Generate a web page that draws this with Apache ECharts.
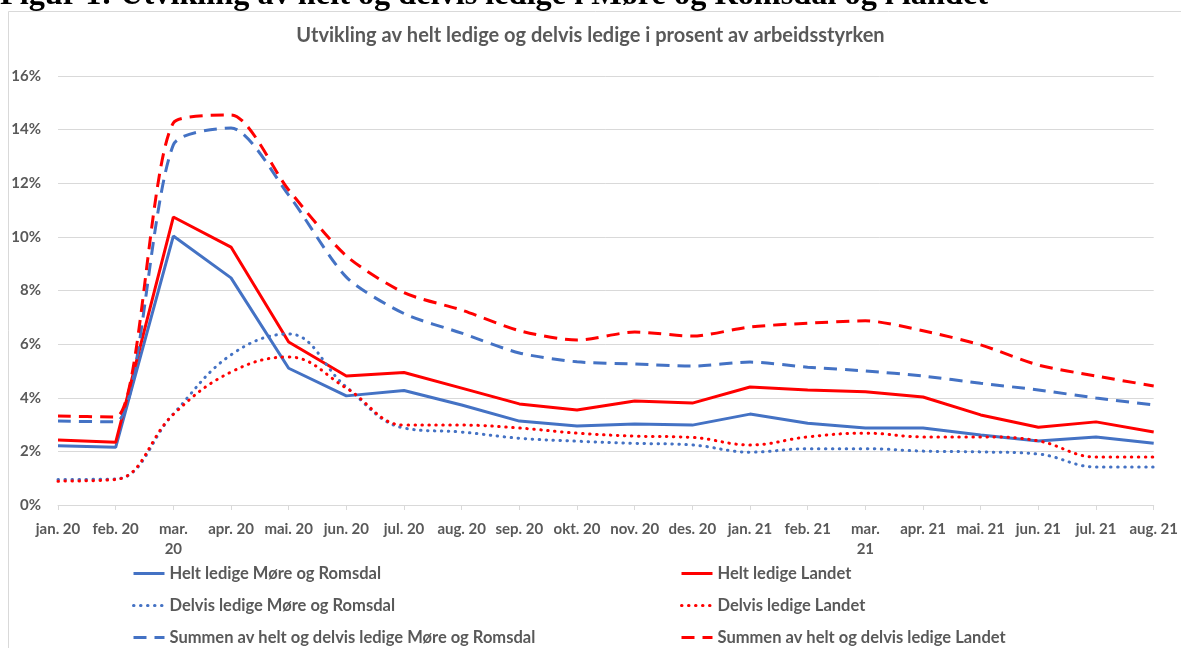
<!DOCTYPE html>
<html>
<head>
<meta charset="utf-8">
<script src="https://cdn.jsdelivr.net/npm/echarts@6/dist/echarts.min.js"></script>
<style>
html,body{margin:0;padding:0;background:#fff;}
#chart{width:1181px;height:648px;}
</style>
</head>
<body>
<div id="chart"></div>
<script>
const categories = ["jan. 20","feb. 20","mar.\n20","apr. 20","mai. 20","jun. 20","jul. 20","aug. 20","sep. 20","okt. 20","nov. 20","des. 20","jan. 21","feb. 21","mar.\n21","apr. 21","mai. 21","jun. 21","jul. 21","aug. 21"];
const yTicks = [0,2,4,6,8,10,12,14,16];

const heltMR      = [2.21,2.15,10.03,8.47,5.10,4.07,4.27,3.73,3.13,2.95,3.02,2.98,3.39,3.05,2.87,2.87,2.61,2.39,2.54,2.30];
const heltLandet  = [2.42,2.34,10.74,9.62,6.08,4.81,4.94,4.36,3.77,3.54,3.88,3.80,4.40,4.29,4.22,4.03,3.36,2.90,3.10,2.72];
const delvisMR    = [0.95,0.97,3.40,5.60,6.38,4.40,2.87,2.72,2.49,2.38,2.30,2.24,1.97,2.10,2.10,2.01,1.98,1.90,1.42,1.42];
const delvisLandet= [0.89,0.95,3.38,4.96,5.52,4.36,2.98,2.98,2.87,2.68,2.57,2.52,2.24,2.54,2.68,2.54,2.54,2.39,1.79,1.79];
const sumMR       = [3.13,3.10,13.43,14.06,11.56,8.50,7.14,6.41,5.67,5.34,5.26,5.18,5.33,5.14,5.00,4.81,4.54,4.29,3.99,3.73];
const sumLandet   = [3.32,3.28,14.25,14.55,11.75,9.29,7.92,7.27,6.50,6.15,6.45,6.30,6.64,6.78,6.87,6.50,5.97,5.22,4.81,4.44];

const names = {
  heltMR: "Helt ledige Møre og Romsdal",
  heltLandet: "Helt ledige Landet",
  delvisMR: "Delvis ledige Møre og Romsdal",
  delvisLandet: "Delvis ledige Landet",
  sumMR: "Summen av helt og delvis ledige Møre og Romsdal",
  sumLandet: "Summen av helt og delvis ledige Landet"
};

const BLUE = '#4472C4', RED = '#FF0000';
const FONT = 'Lato';
const TXT = '#595959';

function mk(name, data, color, smooth) {
  return {
    name: name, type: 'line', data: data, symbol: 'none', showSymbol: false,
    smooth: smooth, animation: false,
    lineStyle: { color: color, width: 3, type: 'solid', cap: 'butt' },
    itemStyle: { color: color }
  };
}
function dotted(s){ s.lineStyle.type = [0.5, 6.5]; s.lineStyle.cap = 'round'; return s; }
function dashed(s){ s.lineStyle.type = [13, 8]; return s; }

const series = [
  mk(names.heltMR, heltMR, BLUE, false),
  mk(names.heltLandet, heltLandet, RED, false),
  dotted(mk(names.delvisMR, delvisMR, BLUE, 0.4)),
  dotted(mk(names.delvisLandet, delvisLandet, RED, 0.4)),
  dashed(mk(names.sumMR, sumMR, BLUE, 0.25)),
  dashed(mk(names.sumLandet, sumLandet, RED, 0.25))
];

const legendText = { color: TXT, fontFamily: FONT, fontSize: 16.5, fontWeight: 'bold' };
const legendCommon = { orient: 'vertical', top: 560, height: 90, itemWidth: 31, itemHeight: 14, itemGap: 15,
  itemStyle: { opacity: 0 }, lineStyle: { width: 3 }, textStyle: legendText };

const chart = echarts.init(document.getElementById('chart'), null, { renderer: 'canvas' });
chart.setOption({
  animation: false,
  backgroundColor: '#fff',
  title: {
    text: 'Utvikling av helt ledige og delvis ledige i prosent av arbeidsstyrken',
    left: 'center', top: 21,
    textStyle: { color: TXT, fontFamily: FONT, fontSize: 20, fontWeight: 'bold' }
  },
  graphic: [
    { type: 'rect', shape: { x: 8.5, y: 11.5, width: 1200, height: 700 },
      style: { fill: 'none', stroke: '#d9d9d9', lineWidth: 1 }, z: -1 },
    { type: 'text', left: 0, top: -20,
      style: { text: 'Figur 1: Utvikling av helt og delvis ledige i Møre og Romsdal og i landet',
        fontFamily: 'Liberation Serif', fontSize: 32.3, fontWeight: 'bold', fill: '#000' } }
  ],
  grid: { left: 58, right: 19, top: 76, bottom: 143, containLabel: false },
  xAxis: {
    type: 'category', data: categories, boundaryGap: false,
    axisLine: { lineStyle: { color: '#d9d9d9', width: 1 } },
    axisTick: { show: true, length: 5, lineStyle: { color: '#d9d9d9' } },
    axisLabel: { color: TXT, fontFamily: FONT, fontSize: 15, fontWeight: 'bold', interval: 0, margin: 14, lineHeight: 20 },
    splitLine: { show: false }
  },
  yAxis: {
    type: 'value', min: yTicks[0], max: yTicks[yTicks.length-1], interval: 2,
    axisLine: { show: false }, axisTick: { show: false },
    axisLabel: { color: TXT, fontFamily: FONT, fontSize: 15, fontWeight: 'bold', margin: 17,
      formatter: function(v){ return v + '%'; } },
    splitLine: { lineStyle: { color: '#d9d9d9', width: 1 } }
  },
  legend: [
    Object.assign({ left: 127, data: [names.heltMR, names.delvisMR, names.sumMR] }, legendCommon),
    Object.assign({ left: 675, data: [names.heltLandet, names.delvisLandet, names.sumLandet] }, legendCommon)
  ],
  series: series
});
</script>
</body>
</html>
